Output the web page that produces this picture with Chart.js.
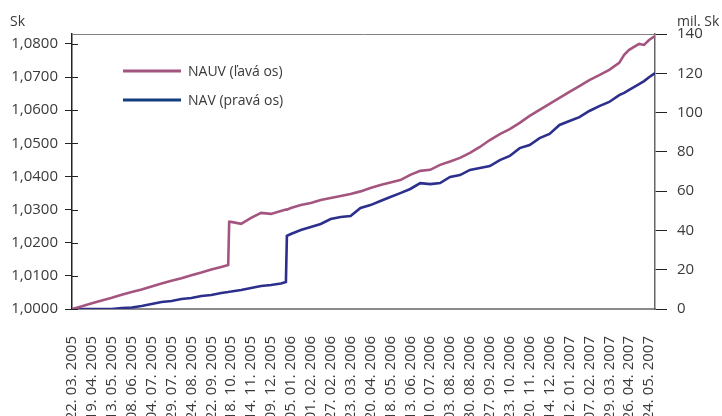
<!DOCTYPE html>
<html>
<head>
<meta charset="utf-8">
<script src="https://cdn.jsdelivr.net/npm/chart.js@4"></script>
<style>
  html, body { margin: 0; padding: 0; background: #fff; overflow: hidden; }
  #wrap { width: 722px; height: 416px; }
</style>
</head>
<body>
<div id="wrap"><canvas id="canvas" width="722" height="416"></canvas></div>
<script>
// trading day index (20 days between date labels)
const days = [0, 10, 20, 30, 40, 50, 60, 70, 80, 90, 100, 110, 120, 130, 140, 150, 157, 158, 160,
  170, 180, 190, 200, 210, 215, 216, 220, 230, 240, 250, 260, 270, 280, 290, 300, 310, 320, 330,
  340, 350, 360, 370, 380, 390, 400, 410, 420, 430, 440, 450, 460, 470, 480, 490, 500, 510, 520,
  530, 540, 550, 555, 560, 570, 575, 580, 586];

// NAUV, left axis (Sk)
const nauv = [1.0000, 1.0008, 1.0017, 1.0026, 1.0034, 1.0043, 1.0051, 1.0059, 1.0068, 1.0077, 1.0085,
  1.0093, 1.0102, 1.0110, 1.0119, 1.0127, 1.0133, 1.0263, 1.0263,
  1.0257, 1.0275, 1.0290, 1.0287, 1.0296, 1.0300, 1.0300, 1.0305, 1.0314, 1.0320, 1.0329, 1.0335,
  1.0341, 1.0347, 1.0355, 1.0365, 1.0374, 1.0382, 1.0389,
  1.0405, 1.0417, 1.0420, 1.0435, 1.0445, 1.0456, 1.0471, 1.0489, 1.0510, 1.0528, 1.0543, 1.0562,
  1.0583, 1.0601, 1.0619, 1.0637, 1.0655, 1.0673, 1.0691,
  1.0706, 1.0722, 1.0743, 1.0767, 1.0782, 1.0800, 1.0797, 1.0812, 1.0824];

// NAV, right axis (mil. Sk)
const nav = [0, 0, 0, 0, 0, 0.5, 0.8, 1.5, 2.5, 3.6, 4.1, 5.1, 5.6, 6.6, 7.1, 8.1, 8.7, 8.8, 8.9,
  9.7, 10.7, 11.7, 12.2, 13.0, 13.7, 37.2, 38.2, 40.2, 41.7, 43.3, 45.8, 46.8, 47.3, 51.4, 52.9,
  55.0, 57.0, 59.0,
  61.1, 64.1, 63.6, 64.1, 67.2, 68.2, 70.8, 71.8, 72.8, 75.8, 77.9, 81.9, 83.5, 87.0, 89.1, 93.7,
  95.7, 97.7, 100.8,
  103.3, 105.4, 108.9, 110.0, 111.5, 114.5, 116.0, 118.0, 120.1];

const tickDates = ['22. 03. 2005', '19. 04. 2005', '13. 05. 2005', '08. 06. 2005', '04. 07. 2005',
  '29. 07. 2005', '24. 08. 2005', '22. 09. 2005', '18. 10. 2005', '14. 11. 2005', '09. 12. 2005',
  '05. 01. 2006', '01. 02. 2006', '27. 02. 2006', '23. 03. 2006', '20. 04. 2006', '18. 05. 2006',
  '13. 06. 2006', '10. 07. 2006', '03. 08. 2006', '30. 08. 2006', '27. 09. 2006', '23. 10. 2006',
  '20. 11. 2006', '14. 12. 2006', '12. 01. 2007', '07. 02. 2007', '29. 03. 2007', '26. 04. 2007',
  '24. 05. 2007'];

const leftTicks = [1.000, 1.005, 1.010, 1.015, 1.020, 1.025, 1.030, 1.035, 1.040, 1.045, 1.050,
  1.055, 1.060, 1.065, 1.070, 1.075, 1.080];

const PINK = '#a4557f';
const BLUE = '#2c2f8c';
const TEXT = '#3a3a3a';

Chart.defaults.font.family = "'Open Sans', sans-serif";
Chart.defaults.color = TEXT;

// titles, top frame line, inner tick marks and legend
const extras = {
  id: 'extras',
  afterDraw(chart) {
    const c = chart.ctx;
    const a = chart.chartArea;
    c.save();
    c.strokeStyle = '#808080';
    c.lineWidth = 1;
    c.beginPath();
    c.moveTo(a.left, a.top + 0.5);
    c.lineTo(a.right, a.top + 0.5);
    c.stroke();

    // inward ticks on left axis
    const yl = chart.scales.yL;
    c.strokeStyle = '#222';
    c.beginPath();
    yl.ticks.forEach(t => {
      const y = Math.round(yl.getPixelForValue(t.value)) + 0.5;
      c.moveTo(a.left, y);
      c.lineTo(a.left + 6, y);
    });
    c.stroke();

    c.fillStyle = TEXT;
    c.font = "14px 'Open Sans'";
    c.textBaseline = 'middle';
    c.textAlign = 'left';
    c.fillText('Sk', 10, 22);
    c.fillText('mil. Sk', 677, 22);

    // legend
    c.font = "14px 'Open Sans'";
    chart.data.datasets.forEach((ds, i) => {
      const y = 71 + i * 29;
      c.strokeStyle = ds.legendColor;
      c.lineWidth = 3;
      c.beginPath();
      c.moveTo(123, y);
      c.lineTo(181, y);
      c.stroke();
      c.fillStyle = TEXT;
      c.fillText(ds.label, 188, y + 1);
    });
    c.restore();
  }
};

new Chart(document.getElementById('canvas'), {
  type: 'line',
  data: {
    datasets: [
      {
        label: 'NAUV (ľavá os)',
        data: days.map((d, i) => ({ x: d, y: nauv[i] })),
        yAxisID: 'yL',
        borderColor: PINK,
        legendColor: PINK,
        borderWidth: 2.6,
        pointRadius: 0,
        tension: 0
      },
      {
        label: 'NAV (pravá os)',
        data: days.map((d, i) => ({ x: d, y: nav[i] })),
        yAxisID: 'yR',
        borderColor: BLUE,
        legendColor: '#123d7e',
        borderWidth: 2.6,
        pointRadius: 0,
        tension: 0
      }
    ]
  },
  options: {
    responsive: false,
    animation: false,
    layout: { padding: { top: 34, left: 0, right: 0, bottom: 0 } },
    plugins: { legend: { display: false }, tooltip: { enabled: false } },
    scales: {
      x: {
        type: 'linear',
        min: 0,
        max: 586,
        afterBuildTicks: s => { s.ticks = tickDates.map((_, i) => ({ value: i * 20 })); },
        afterFit: s => { s.height = 107; },
        ticks: {
          autoSkip: false,
          minRotation: 90,
          maxRotation: 90,
          padding: 27,
          font: { size: 15 },
          callback: v => tickDates[Math.round(v / 20)] || ''
        },
        grid: { display: false, drawTicks: false },
        border: { color: '#8a8a8a', width: 2 }
      },
      yL: {
        position: 'left',
        min: 1.0,
        max: 1.083,
        afterBuildTicks: s => { s.ticks = leftTicks.map(v => ({ value: v })); },
        afterFit: s => { s.width = 72; },
        ticks: {
          padding: 7,
          font: { size: 15 },
          callback: v => (Math.round(v * 1000) % 10 === 0) ? v.toFixed(4).replace('.', ',') : ''
        },
        grid: { drawOnChartArea: false, tickLength: 7, color: '#222' },
        border: { color: '#222', width: 1.5 }
      },
      yR: {
        position: 'right',
        min: 0,
        max: 140,
        afterFit: s => { s.width = 67; },
        ticks: { stepSize: 20, padding: 10, font: { size: 15 } },
        grid: { drawOnChartArea: false, tickLength: 12, color: '#222' },
        border: { color: '#666', width: 1.5 }
      }
    }
  },
  plugins: [extras]
});
</script>
</body>
</html>
